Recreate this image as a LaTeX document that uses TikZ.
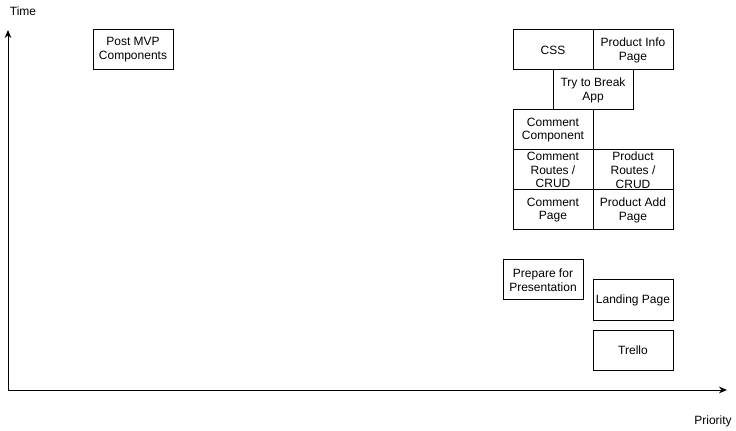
\documentclass[tikz,border=0pt]{standalone}
\usepackage{fontspec}
\setmainfont{Liberation Sans}
\usetikzlibrary{arrows.meta}
\begin{document}
\begin{tikzpicture}[x=0.75pt,y=-0.75pt,
  box/.style={draw,line width=0.75pt,minimum width=60pt,minimum height=30pt,inner sep=0pt,align=center,font=\fontsize{9}{10.4}\selectfont},
  lbl/.style={font=\fontsize{9}{10.4}\selectfont,inner sep=0pt},
  axis/.style={line width=0.75pt,-{Stealth[length=6pt,width=5pt]}}]
\useasboundingbox (0,0) rectangle (736,431);
\coordinate (origin) at (8,390);
\coordinate (ytop) at (8,30);
\coordinate (xend) at (727,390);
\draw[axis] (origin) -- (ytop);
\draw[axis] (origin) -- (xend);
\node[lbl] (time) at (23,11) {Time};
\node[lbl] (prio) at (713,421) {Priority};
\node[box] (post) at (133,50) {Post MVP\\Components};
\node[box] (css) at (553,50) {CSS};
\node[box] (pinfo) at (633,50) {Product Info\\Page};
\node[box] (break) at (593,90) {Try to Break\\App};
\node[box] (ccomp) at (553,130) {Comment\\Component};
\node[box] (croutes) at (553,170) {Comment\\Routes /\\CRUD};
\node[box] (proutes) at (633,170) {Product\\Routes /\\CRUD};
\node[box] (cpage) at (553,210) {Comment\\Page};
\node[box] (padd) at (633,210) {Product Add\\Page};
\node[box] (prep) at (543,280) {Prepare for\\Presentation};
\node[box] (landing) at (633,300) {Landing Page};
\node[box] (trello) at (633,350) {Trello};
\end{tikzpicture}
\end{document}
